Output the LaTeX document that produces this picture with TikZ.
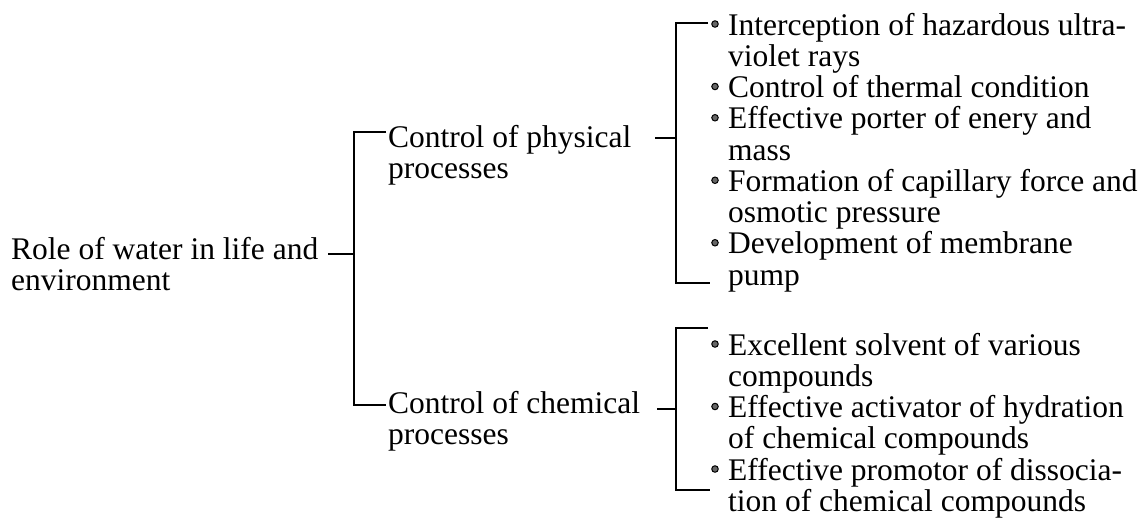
\documentclass[tikz,border=0pt]{standalone}
\usepackage{fontspec}
\setmainfont{Liberation Serif}
\begin{document}
\begin{tikzpicture}[x=1pt,y=-1pt,
  txt/.style={anchor=base west,inner sep=0pt,font=\fontsize{31.5}{31.5}\selectfont},
  conn/.style={line width=1.1pt,black},
  dot/.style={circle,draw=black,fill=black!60,line width=1pt,inner sep=0pt,minimum size=6.5pt}]
\useasboundingbox (0,0) rectangle (1146,517);
% root
\node[txt] (r1) at (11,259) {Role of water in life and};
\node[txt] (r2) at (11,290) {environment};
% second level
\node[txt] (p1) at (388,147) {Control of physical};
\node[txt] (p2) at (388,178) {processes};
\node[txt] (c1) at (388,413) {Control of chemical};
\node[txt] (c2) at (388,444) {processes};
% physical items
\node[txt] (a1) at (728,35) {Interception of hazardous ultra-};
\node[txt] (a2) at (728,66.25) {violet rays};
\node[txt] (b1) at (728,97.5) {Control of thermal condition};
\node[txt] (d1) at (728,128.75) {Effective porter of enery and};
\node[txt] (d2) at (728,160) {mass};
\node[txt] (e1) at (728,191.25) {Formation of capillary force and};
\node[txt] (e2) at (728,222.5) {osmotic pressure};
\node[txt] (f1) at (728,253.75) {Development of membrane};
\node[txt] (f2) at (728,285) {pump};
% chemical items
\node[txt] (g1) at (728,355) {Excellent solvent of various};
\node[txt] (g2) at (728,386.25) {compounds};
\node[txt] (h1) at (728,417.5) {Effective activator of hydration};
\node[txt] (h2) at (728,448.75) {of chemical compounds};
\node[txt] (i1) at (728,480) {Effective promotor of dissocia-};
\node[txt] (i2) at (728,511.25) {tion of chemical compounds};
% bullets
\foreach \n/\y in {ba/24,bb/86.5,bd/117.75,be/180.25,bf/242.75,bg/344,bh/406.5,bi/469}
  \node[dot] (\n) at (715,\y) {};
% root bracket
\coordinate (rt) at (328,254);
\coordinate (rj) at (354,254);
\coordinate (rtop) at (354,132);
\coordinate (rbot) at (354,405);
\coordinate (pin) at (386,132);
\coordinate (cin) at (386,405);
\draw[conn] (rt) -- (rj);
\draw[conn] (pin) -- (rtop) -- (rbot) -- (cin);
% physical bracket
\coordinate (pt) at (655,138);
\coordinate (pj) at (676,138);
\coordinate (ptop) at (676,23);
\coordinate (pbot) at (676,283);
\coordinate (pa) at (708,23);
\coordinate (pz) at (710,283);
\draw[conn] (pt) -- (pj);
\draw[conn] (pa) -- (ptop) -- (pbot) -- (pz);
% chemical bracket
\coordinate (ct) at (657,409);
\coordinate (cj) at (676,409);
\coordinate (ctop) at (676,328);
\coordinate (cbot) at (676,490);
\coordinate (ca) at (708,328);
\coordinate (cz) at (710,490);
\draw[conn] (ct) -- (cj);
\draw[conn] (ca) -- (ctop) -- (cbot) -- (cz);
\end{tikzpicture}
\end{document}
